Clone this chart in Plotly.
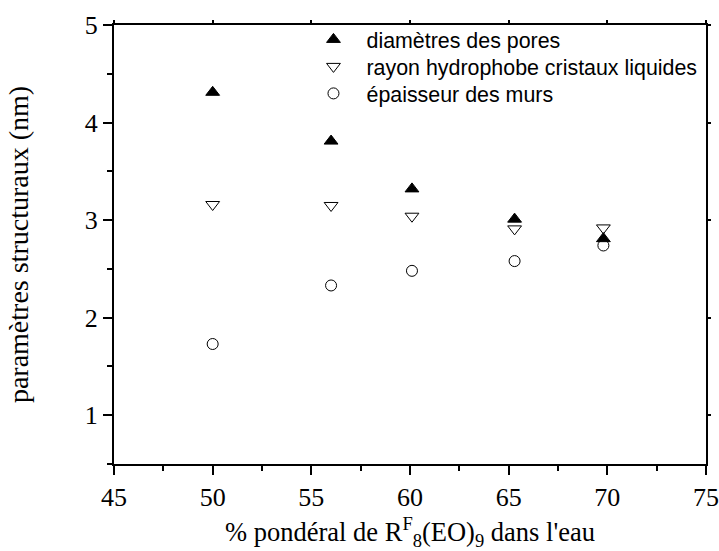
import plotly.graph_objects as go

# Data
x_pct = [50.0, 56.0, 60.1, 65.3, 69.8]
pore_diam = [4.31, 3.81, 3.32, 3.01, 2.81]
hydro_radius = [3.16, 3.15, 3.04, 2.91, 2.92]
wall_thick = [1.73, 2.33, 2.48, 2.58, 2.74]

names = ["diamètres des pores", "rayon hydrophobe cristaux liquides", "épaisseur des murs"]
x_ticks = [45, 50, 55, 60, 65, 70, 75]
y_ticks = [1, 2, 3, 4, 5]

fig = go.Figure()
fig.add_trace(go.Scatter(x=x_pct, y=pore_diam, mode="markers", name=names[0], legend="legend",
                         marker=dict(symbol="triangle-up", size=12, color="black",
                                     line=dict(color="black", width=1))))
fig.add_trace(go.Scatter(x=x_pct, y=hydro_radius, mode="markers", name=names[1], legend="legend2",
                         marker=dict(symbol="triangle-down-open", size=12, color="black",
                                     line=dict(color="black", width=1))))
fig.add_trace(go.Scatter(x=x_pct, y=wall_thick, mode="markers", name=names[2], legend="legend3",
                         marker=dict(symbol="circle-open", size=11, color="black",
                                     line=dict(color="black", width=1))))

serif = "Times New Roman, Liberation Serif, serif"
sans = "Arial, Liberation Sans, sans-serif"
axis_common = dict(showgrid=False, zeroline=False, showline=True, linecolor="black",
                   linewidth=2, ticks="outside", tickcolor="black", tickwidth=2, automargin=False,
                   ticklen=9, tickfont=dict(family=serif, size=26, color="black"))

def leg(y):
    return dict(x=0.315, y=y, xanchor="left", yanchor="middle", bgcolor="rgba(0,0,0,0)",
                itemwidth=56, font=dict(family=sans, size=21.4, color="black"))

fig.update_layout(
    width=719, height=551,
    margin=dict(l=114, r=13, t=25, b=87),
    paper_bgcolor="white", plot_bgcolor="white",
    showlegend=True,
    legend=leg(0.9670), legend2=leg(0.9055), legend3=leg(0.8440),
    xaxis=dict(range=[45, 75], tickvals=x_ticks, ticktext=[str(v) for v in x_ticks],
               minor=dict(dtick=2.5, ticks="outside", ticklen=5, tickwidth=2, tickcolor="black"),
               title=dict(text="% pondéral de R<sup>F</sup><sub>8</sub>(EO)<sub>9</sub> dans l'eau",
                          font=dict(family=serif, size=26.5, color="black"), standoff=14),
               **axis_common),
    yaxis=dict(range=[0.5, 5], tickvals=y_ticks, ticktext=[str(v) for v in y_ticks],
               minor=dict(dtick=0.5, ticks="outside", ticklen=5, tickwidth=2, tickcolor="black"),
               title=dict(text="paramètres structuraux (nm)",
                          font=dict(family=serif, size=28, color="black"), standoff=48),
               **axis_common),
    xaxis2=dict(range=[45, 75], overlaying="x", side="top", showline=True, linecolor="black",
                linewidth=2, showgrid=False, zeroline=False, tickvals=x_ticks, automargin=False,
                ticks="outside", ticklen=3, tickwidth=2, tickcolor="black", showticklabels=False),
    yaxis2=dict(range=[0.5, 5], overlaying="y", side="right", showline=True, linecolor="black",
                linewidth=2, showgrid=False, zeroline=False, tickvals=y_ticks, automargin=False,
                ticks="outside", ticklen=3, tickwidth=2, tickcolor="black", showticklabels=False),
)
# invisible trace to activate the mirror axes
fig.add_trace(go.Scatter(x=[45], y=[0.5], xaxis="x2", yaxis="y2", mode="markers",
                         marker=dict(opacity=0), showlegend=False, hoverinfo="skip"))

fig.write_html("out.html", config={"displayModeBar": False},
               post_script="document.body.style.margin='0px';")
